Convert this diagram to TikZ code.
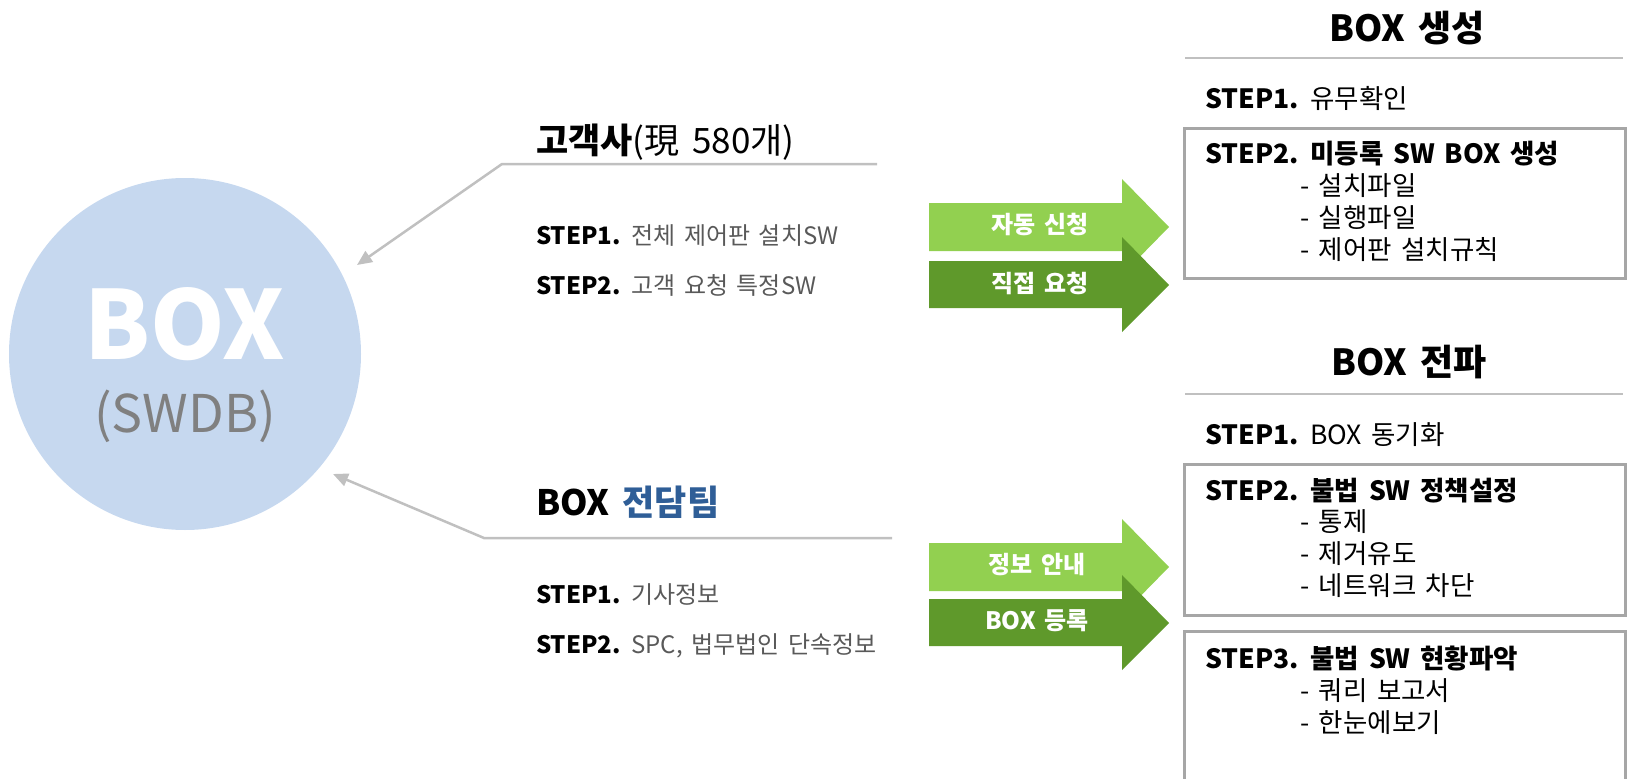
\documentclass[tikz,border=0pt]{standalone}
\usepackage{fontspec}
\setmainfont{Noto Sans CJK KR}[WordSpace=1.6]
\usetikzlibrary{arrows.meta}
\definecolor{circblue}{HTML}{C6D8EF}
\definecolor{lgreen}{HTML}{92D050}
\definecolor{dgreen}{HTML}{5F992B}
\definecolor{linegray}{HTML}{C0C0C0}
\definecolor{boxgray}{HTML}{A6A6A6}
\definecolor{txtgray}{HTML}{595959}
\definecolor{teamblue}{HTML}{2F5E97}
\begin{document}
\begin{tikzpicture}[x=1pt,y=-1pt,
  lbl/.style={anchor=base west, inner sep=0pt},
  hdrfont/.style={font=\fontsize{35}{40}\selectfont},
  stpfont/.style={font=\fontsize{24}{28}\selectfont},
  rtfont/.style={font=\fontsize{26.5}{30}\selectfont},
  ttlfont/.style={font=\fontsize{36}{42}\selectfont\bfseries},
  conn/.style={draw=linegray, line width=2.5pt, -{Triangle[width=13pt,length=15pt]}},
  rule/.style={draw=linegray, line width=2.5pt},
  stepbox/.style={draw=boxgray, line width=3pt},
  arrtxt/.style={text=white, font=\fontsize{24}{28}\selectfont\bfseries, inner sep=0pt}]
\useasboundingbox (0,0) rectangle (1631,779);

% database circle
\node[circle, fill=circblue, minimum size=352pt, inner sep=0pt] (db) at (185,354) {};
\node[anchor=base, inner sep=0pt, text=white, font=\fontsize{95}{105}\selectfont\bfseries] (boxt) at (185,359) {BOX};
\node[anchor=base, inner sep=0pt, text=gray, font=\fontsize{52}{58}\selectfont] (swdb) at (185,432) {(SWDB)};

% customers group
\node[lbl, hdrfont] (cust) at (536,153) {\textbf{고객사}(現 580개)};
\coordinate (c1) at (877,164);
\coordinate (c2) at (502,164);
\coordinate (ctip) at (357,265);
\draw[conn] (c1) -- (c2) -- (ctip);
\node[lbl, stpfont] (cs1) at (536,244) {\textbf{STEP1.} \textcolor{txtgray}{전체 제어판 설치SW}};
\node[lbl, stpfont] (cs2) at (536,294) {\textbf{STEP2.} \textcolor{txtgray}{고객 요청 특정SW}};

% team group
\node[lbl, hdrfont] (team) at (536,515) {\textbf{BOX \textcolor{teamblue}{전담팀}}};
\coordinate (t1) at (892,538);
\coordinate (t2) at (484,538);
\coordinate (ttip) at (333,474);
\draw[conn] (t1) -- (t2) -- (ttip);
\node[lbl, stpfont] (ts1) at (536,603) {\textbf{STEP1.} \textcolor{txtgray}{기사정보}};
\node[lbl, stpfont] (ts2) at (536,653) {\textbf{STEP2.} \textcolor{txtgray}{SPC, 법무법인 단속정보}};

% green arrows upper
\fill[lgreen] (929,203) -- (1122,203) -- (1122,179) -- (1169,227) -- (1122,275) -- (1122,251) -- (929,251) -- cycle;
\fill[dgreen] (929,261) -- (1122,261) -- (1122,237) -- (1169,285) -- (1122,332) -- (1122,308) -- (929,308) -- cycle;
\node[arrtxt] (a1) at (1040,225) {자동 신청};
\node[arrtxt] (a2) at (1040,283) {직접 요청};

% green arrows lower
\fill[lgreen] (929,543) -- (1122,543) -- (1122,519) -- (1169,567) -- (1122,615) -- (1122,591) -- (929,591) -- cycle;
\fill[dgreen] (929,599) -- (1122,599) -- (1122,575) -- (1169,623) -- (1122,670) -- (1122,646) -- (929,646) -- cycle;
\node[arrtxt] (a3) at (1037,565) {정보 안내};
\node[arrtxt] (a4) at (1037,621) {BOX 등록};

% BOX 생성
\node[anchor=base, inner sep=0pt, ttlfont] (gen) at (1407,41) {BOX 생성};
\draw[rule] (1185,58) -- (1623,58);
\node[lbl, rtfont] (g1) at (1205,108) {\textbf{STEP1.} 유무확인};
\draw[stepbox] (1184,128) rectangle (1625,278);
\node[lbl, rtfont] (g2) at (1205,163) {\textbf{STEP2. 미등록 SW BOX 생성}};
\node[lbl, rtfont] (g2a) at (1300,195) {- 설치파일};
\node[lbl, rtfont] (g2b) at (1300,227) {- 실행파일};
\node[lbl, rtfont] (g2c) at (1300,259) {- 제어판 설치규칙};

% BOX 전파
\node[anchor=base, inner sep=0pt, ttlfont] (prop) at (1409,375) {BOX 전파};
\draw[rule] (1185,394) -- (1623,394);
\node[lbl, rtfont] (p1) at (1205,444) {\textbf{STEP1.} BOX 동기화};
\draw[stepbox] (1184,464) rectangle (1625,615);
\node[lbl, rtfont] (p2) at (1205,500) {\textbf{STEP2. 불법 SW 정책설정}};
\node[lbl, rtfont] (p2a) at (1300,531) {- 통제};
\node[lbl, rtfont] (p2b) at (1300,563) {- 제거유도};
\node[lbl, rtfont] (p2c) at (1300,595) {- 네트워크 차단};
\draw[stepbox] (1184,631) rectangle (1625,800);
\node[lbl, rtfont] (p3) at (1205,668) {\textbf{STEP3. 불법 SW 현황파악}};
\node[lbl, rtfont] (p3a) at (1300,700) {- 쿼리 보고서};
\node[lbl, rtfont] (p3b) at (1300,732) {- 한눈에보기};
\end{tikzpicture}
\end{document}
